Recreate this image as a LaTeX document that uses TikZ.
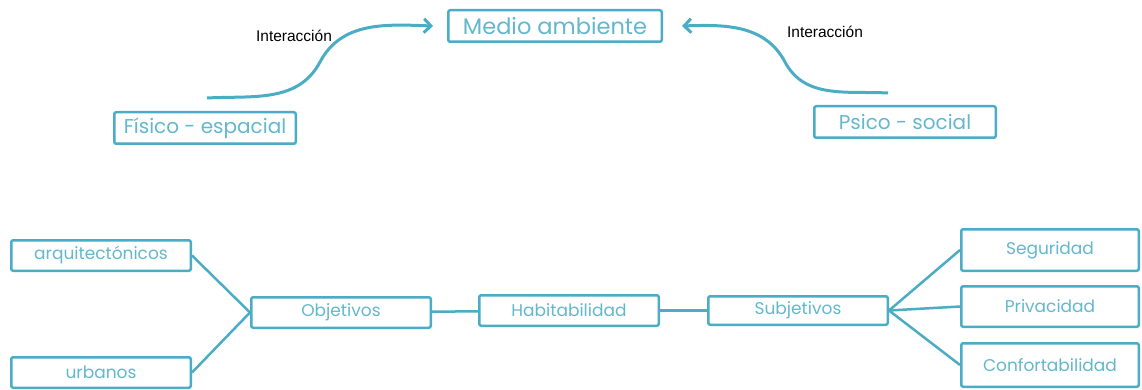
\documentclass[tikz,border=0pt]{standalone}
\usepackage{fontspec}
\setmainfont{Poppins}
\newfontfamily\etiqfont{Liberation Sans}
\usetikzlibrary{arrows.meta}
\definecolor{aqua}{HTML}{4BACC6}
\definecolor{aquatext}{HTML}{62B8CE}

\begin{document}
\begin{tikzpicture}[x=1pt,y=-1pt]
        \tikzstyle{caja}=[draw=aqua, line width=2.5pt, rounded corners=2pt, fill=white, text=aquatext, inner sep=0pt]
        \tikzstyle{grande}=[caja, minimum height=31.5pt, font=\fontsize{22.5}{24}\selectfont]
        \tikzstyle{media}=[grande, minimum width=181.5pt, font=\fontsize{20}{22}\selectfont]
        \tikzstyle{chica}=[caja, minimum width=179.5pt, minimum height=30.5pt, font=\fontsize{17}{19}\selectfont]
        \tikzstyle{etiq}=[font=\etiqfont\fontsize{15.5}{17}\selectfont, text=black]
        \tikzstyle{flecha}=[draw=aqua, line width=3pt, -{Straight Barb[length=7pt,width=14pt]}]
        \tikzstyle{rama}=[draw=aqua, line width=2.5pt]
        \useasboundingbox (0,0) rectangle (1142,390);
        % parte superior
        \node[grande, minimum width=213.5pt] (medio) at (555,26) {Medio ambiente};
        \node[media] (fisico) at (205,128) {Físico - espacial};
        \node[media] (psico) at (905,122) {Psico - social};
        \node[etiq] (inter1) at (294,36) {Interacción};
        \node[etiq] (inter2) at (825,32) {Interacción};
        \coordinate (ini1) at (207,98);
        \coordinate (ini2) at (888,93);
        \draw[flecha] (ini1) to[out=3,in=-118] (320,62) to[out=62,in=178] ([xshift=-14pt]medio.west);
        \draw[flecha] (ini2) to[out=177,in=-62] (785,62) to[out=118,in=2] ([xshift=19pt]medio.east);
        % parte inferior
        \node[chica] (arq) at (101,255.5) {arquitectónicos};
        \node[chica] (urb) at (101,372.5) {urbanos};
        \node[chica] (obj) at (341,312.5) {Objetivos};
        \node[chica] (hab) at (569,310.5) {Habitabilidad};
        \node[chica, minimum height=28.5pt] (sub) at (798,310.5) {Subjetivos};
        \node[chica, minimum width=177.5pt, minimum height=41.5pt] (seg) at (1050,250) {Seguridad};
        \node[chica, minimum width=177.5pt, minimum height=40.5pt] (pri) at (1050,306.5) {Privacidad};
        \node[chica, minimum width=177.5pt, minimum height=43.5pt] (con) at (1050,365) {Confortabilidad};
        \draw[rama] (arq.east) -- (obj.west);
        \draw[rama] (urb.east) -- (obj.west);
        \draw[rama] (obj) -- (hab);
        \draw[rama] (hab) -- (sub);
        \draw[rama] (sub.east) -- (seg.west);
        \draw[rama] (sub.east) -- (pri.west);
        \draw[rama] (sub.east) -- (con.west);
    \end{tikzpicture}
\end{document}
